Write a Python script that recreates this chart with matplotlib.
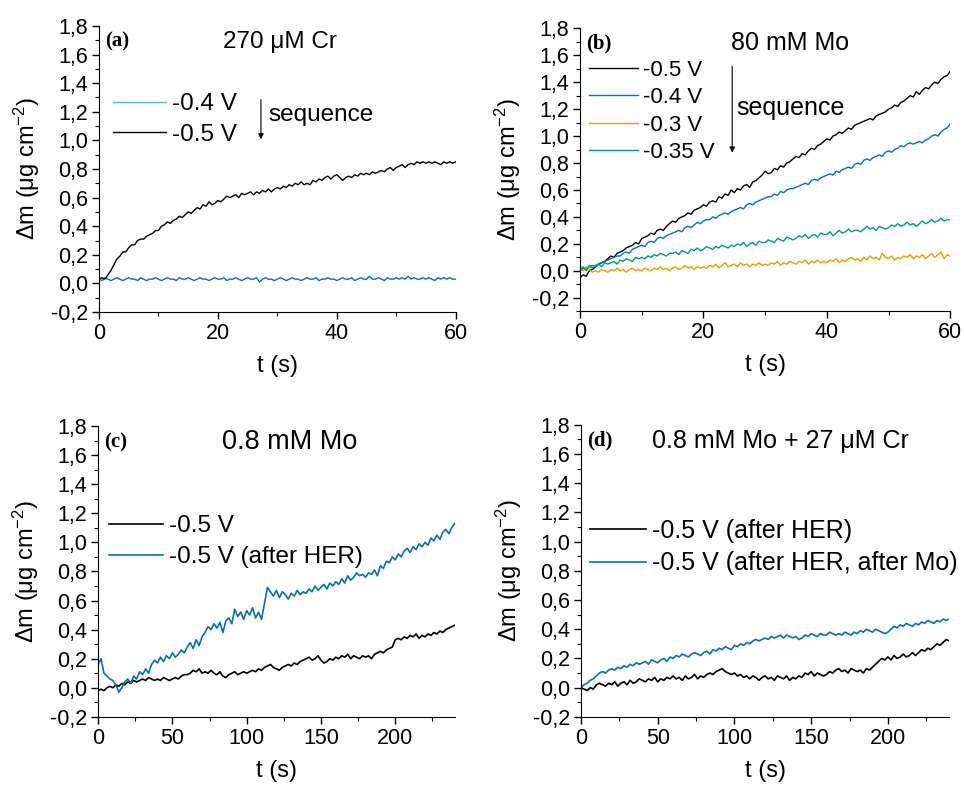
import numpy as np
import matplotlib
matplotlib.use("Agg")
import matplotlib.pyplot as plt
from matplotlib.ticker import MultipleLocator, FuncFormatter

plt.rcParams['font.family'] = ['Liberation Sans', 'DejaVu Sans']
plt.rcParams['mathtext.fontset'] = 'custom'
plt.rcParams['mathtext.rm'] = 'Liberation Sans'
plt.rcParams['mathtext.it'] = 'Liberation Sans:italic'
plt.rcParams['mathtext.default'] = 'regular'

# ---- data ----
t_short = np.arange(0, 60.5, 0.5)   # panels a, b
t_long = np.arange(0, 242, 2)       # panels c, d

# (a) 270 uM Cr
a_m05 = [0.03, 0.04, 0.03, 0.06, 0.09, 0.13, 0.17, 0.19, 0.22, 0.22,
         0.25, 0.27, 0.27, 0.30, 0.31, 0.31, 0.33, 0.34, 0.35, 0.37,
         0.37, 0.40, 0.41, 0.43, 0.42, 0.44, 0.45, 0.47, 0.46, 0.48,
         0.50, 0.49, 0.51, 0.53, 0.52, 0.55, 0.54, 0.57, 0.55, 0.56,
         0.58, 0.57, 0.59, 0.61, 0.60, 0.61, 0.62, 0.60, 0.63, 0.62,
         0.63, 0.64, 0.62, 0.64, 0.63, 0.65, 0.64, 0.66, 0.64, 0.66,
         0.67, 0.66, 0.68, 0.67, 0.69, 0.68, 0.70, 0.69, 0.71, 0.69,
         0.70, 0.69, 0.72, 0.71, 0.73, 0.72, 0.74, 0.75, 0.73, 0.75,
         0.76, 0.74, 0.72, 0.74, 0.75, 0.74, 0.76, 0.75, 0.77, 0.76,
         0.77, 0.76, 0.78, 0.77, 0.78, 0.79, 0.78, 0.80, 0.81, 0.79,
         0.81, 0.82, 0.83, 0.81, 0.83, 0.84, 0.83, 0.85, 0.84, 0.85,
         0.84, 0.85, 0.84, 0.85, 0.84, 0.83, 0.85, 0.84, 0.85, 0.84,
         0.85]
a_m04 = [0.03, 0.02, 0.04, 0.03, 0.02, 0.03, 0.04, 0.03, 0.02, 0.03,
         0.04, 0.03, 0.03, 0.02, 0.04, 0.03, 0.02, 0.03, 0.03, 0.04,
         0.03, 0.02, 0.03, 0.04, 0.03, 0.03, 0.02, 0.04, 0.03, 0.03,
         0.04, 0.03, 0.02, 0.03, 0.04, 0.03, 0.03, 0.02, 0.03, 0.04,
         0.03, 0.03, 0.04, 0.02, 0.03, 0.03, 0.04, 0.03, 0.02, 0.03,
         0.04, 0.03, 0.03, 0.04, 0.01, 0.03, 0.04, 0.03, 0.03, 0.02,
         0.03, 0.04, 0.03, 0.02, 0.03, 0.04, 0.03, 0.03, 0.02, 0.03,
         0.04, 0.03, 0.03, 0.04, 0.02, 0.03, 0.03, 0.04, 0.03, 0.03,
         0.02, 0.03, 0.04, 0.03, 0.03, 0.04, 0.02, 0.03, 0.04, 0.03,
         0.03, 0.05, 0.03, 0.03, 0.04, 0.03, 0.02, 0.04, 0.03, 0.03,
         0.04, 0.03, 0.04, 0.03, 0.05, 0.03, 0.04, 0.03, 0.03, 0.04,
         0.03, 0.04, 0.03, 0.02, 0.04, 0.03, 0.04, 0.03, 0.04, 0.03,
         0.03]

# (b) 80 mM Mo
b_m05 = [-0.05, -0.03, -0.04, 0.00, 0.01, 0.03, 0.05, 0.06, 0.07, 0.09,
         0.11, 0.10, 0.13, 0.14, 0.15, 0.17, 0.18, 0.19, 0.21, 0.20,
         0.24, 0.25, 0.26, 0.28, 0.27, 0.30, 0.31, 0.30, 0.33, 0.35,
         0.37, 0.36, 0.39, 0.40, 0.41, 0.43, 0.42, 0.45, 0.46, 0.47,
         0.49, 0.48, 0.51, 0.52, 0.51, 0.55, 0.54, 0.57, 0.56, 0.60,
         0.58, 0.61, 0.60, 0.63, 0.64, 0.62, 0.66, 0.67, 0.69, 0.71,
         0.74, 0.72, 0.73, 0.76, 0.75, 0.78, 0.77, 0.80, 0.81, 0.83,
         0.85, 0.84, 0.87, 0.86, 0.89, 0.91, 0.90, 0.93, 0.94, 0.96,
         0.98, 0.97, 1.00, 1.01, 1.03, 1.02, 1.04, 1.06, 1.05, 1.08,
         1.09, 1.10, 1.11, 1.12, 1.13, 1.12, 1.15, 1.16, 1.17, 1.18,
         1.20, 1.21, 1.23, 1.22, 1.25, 1.26, 1.28, 1.30, 1.29, 1.33,
         1.31, 1.34, 1.36, 1.35, 1.38, 1.40, 1.39, 1.42, 1.44, 1.45,
         1.48]
b_m04 = [0.00, 0.02, 0.01, 0.03, 0.04, 0.03, 0.05, 0.06, 0.07, 0.08,
         0.09, 0.10, 0.11, 0.11, 0.13, 0.14, 0.13, 0.16, 0.17, 0.18,
         0.19, 0.18, 0.21, 0.22, 0.21, 0.24, 0.25, 0.24, 0.26, 0.27,
         0.28, 0.29, 0.30, 0.29, 0.32, 0.33, 0.32, 0.34, 0.36, 0.35,
         0.37, 0.38, 0.38, 0.40, 0.39, 0.41, 0.42, 0.43, 0.42, 0.44,
         0.45, 0.46, 0.47, 0.46, 0.49, 0.50, 0.49, 0.51, 0.52, 0.53,
         0.54, 0.55, 0.55, 0.57, 0.56, 0.59, 0.58, 0.60, 0.61, 0.61,
         0.62, 0.63, 0.64, 0.65, 0.64, 0.67, 0.68, 0.67, 0.69, 0.70,
         0.71, 0.72, 0.71, 0.74, 0.73, 0.75, 0.76, 0.77, 0.76, 0.79,
         0.80, 0.79, 0.82, 0.83, 0.82, 0.84, 0.85, 0.86, 0.85, 0.88,
         0.89, 0.88, 0.90, 0.91, 0.93, 0.92, 0.94, 0.95, 0.94, 0.95,
         0.96, 0.95, 0.97, 0.98, 1.00, 1.01, 1.00, 1.03, 1.05, 1.06,
         1.09]
b_m03 = [0.02, 0.00, 0.03, 0.01, -0.01, 0.00, -0.01, 0.01, 0.00, -0.01,
         0.01, 0.00, 0.02, 0.00, 0.01, -0.01, 0.01, 0.02, 0.00, 0.01,
         0.00, 0.02, 0.01, 0.00, 0.02, 0.01, 0.03, 0.01, 0.02, 0.00,
         0.02, 0.03, 0.01, 0.02, 0.04, 0.02, 0.03, 0.01, 0.03, 0.02,
         0.03, 0.02, 0.04, 0.03, 0.05, 0.02, 0.04, 0.06, 0.03, 0.04,
         0.05, 0.03, 0.06, 0.04, 0.05, 0.03, 0.05, 0.04, 0.06, 0.04,
         0.05, 0.04, 0.06, 0.05, 0.07, 0.04, 0.06, 0.05, 0.07, 0.06,
         0.05, 0.07, 0.06, 0.08, 0.05, 0.07, 0.06, 0.08, 0.06, 0.07,
         0.06, 0.08, 0.07, 0.09, 0.06, 0.08, 0.07, 0.09, 0.10, 0.08,
         0.09, 0.07, 0.10, 0.08, 0.11, 0.09, 0.10, 0.08, 0.13, 0.10,
         0.09, 0.11, 0.08, 0.10, 0.09, 0.11, 0.10, 0.12, 0.09, 0.11,
         0.10, 0.12, 0.09, 0.11, 0.13, 0.10, 0.12, 0.14, 0.09, 0.12,
         0.11]
b_m035 = [0.01, 0.03, 0.00, 0.04, 0.02, 0.04, 0.05, 0.03, 0.06, 0.05,
          0.06, 0.07, 0.05, 0.08, 0.07, 0.09, 0.08, 0.07, 0.10, 0.09,
          0.10, 0.09, 0.11, 0.10, 0.12, 0.11, 0.13, 0.12, 0.11, 0.13,
          0.13, 0.14, 0.12, 0.15, 0.14, 0.13, 0.16, 0.15, 0.17, 0.15,
          0.16, 0.18, 0.17, 0.16, 0.18, 0.17, 0.19, 0.18, 0.17, 0.19,
          0.18, 0.20, 0.19, 0.21, 0.18, 0.20, 0.21, 0.19, 0.22, 0.21,
          0.21, 0.23, 0.22, 0.21, 0.24, 0.23, 0.22, 0.25, 0.24, 0.23,
          0.24, 0.26, 0.25, 0.27, 0.24, 0.26, 0.27, 0.25, 0.28, 0.27,
          0.27, 0.29, 0.26, 0.28, 0.30, 0.28, 0.29, 0.31, 0.29, 0.30,
          0.30, 0.29, 0.31, 0.33, 0.31, 0.32, 0.30, 0.33, 0.32, 0.31,
          0.32, 0.34, 0.33, 0.35, 0.33, 0.34, 0.36, 0.34, 0.35, 0.33,
          0.35, 0.37, 0.35, 0.36, 0.38, 0.36, 0.37, 0.39, 0.37, 0.38,
          0.38]

# (c) 0.8 mM Mo
c_m05 = [-0.02, -0.01, -0.02, 0.00, 0.01, 0.00, 0.02, 0.01, 0.03, 0.02,
         0.04, 0.03, 0.05, 0.04, 0.05, 0.06, 0.05, 0.07, 0.06, 0.05,
         0.06, 0.05, 0.07, 0.06, 0.05, 0.06, 0.07, 0.06, 0.08, 0.09,
         0.09, 0.10, 0.12, 0.11, 0.13, 0.10, 0.11, 0.10, 0.12, 0.10,
         0.09, 0.11, 0.08, 0.07, 0.09, 0.10, 0.11, 0.09, 0.10, 0.11,
         0.10, 0.11, 0.12, 0.11, 0.13, 0.12, 0.14, 0.15, 0.16, 0.14,
         0.13, 0.12, 0.14, 0.15, 0.16, 0.15, 0.17, 0.16, 0.18, 0.19,
         0.20, 0.21, 0.19, 0.20, 0.22, 0.19, 0.17, 0.18, 0.20, 0.19,
         0.21, 0.20, 0.22, 0.21, 0.23, 0.20, 0.22, 0.21, 0.20, 0.22,
         0.21, 0.22, 0.20, 0.23, 0.24, 0.25, 0.24, 0.26, 0.27, 0.28,
         0.33, 0.34, 0.33, 0.35, 0.34, 0.36, 0.35, 0.37, 0.34, 0.36,
         0.35, 0.37, 0.36, 0.38, 0.37, 0.39, 0.38, 0.40, 0.41, 0.42,
         0.43]
c_m05_her = [0.16, 0.20, 0.10, 0.08, 0.06, 0.05, 0.02, -0.03, 0.00, 0.04,
             0.06, 0.03, 0.08, 0.06, 0.11, 0.09, 0.13, 0.10, 0.16, 0.19,
             0.17, 0.21, 0.18, 0.22, 0.20, 0.24, 0.21, 0.23, 0.26, 0.24,
             0.28, 0.31, 0.27, 0.33, 0.29, 0.35, 0.38, 0.42, 0.40, 0.44,
             0.41, 0.45, 0.38, 0.46, 0.48, 0.44, 0.54, 0.49, 0.52, 0.47,
             0.53, 0.50, 0.55, 0.48, 0.52, 0.47, 0.58, 0.69, 0.66, 0.63,
             0.67, 0.62, 0.66, 0.64, 0.61, 0.65, 0.63, 0.67, 0.64, 0.66,
             0.65, 0.68, 0.66, 0.70, 0.67, 0.69, 0.71, 0.68, 0.72, 0.70,
             0.73, 0.71, 0.75, 0.72, 0.77, 0.74, 0.76, 0.79, 0.77, 0.78,
             0.76, 0.79, 0.78, 0.81, 0.77, 0.84, 0.82, 0.87, 0.86, 0.90,
             0.88, 0.92, 0.90, 0.94, 0.96, 0.93, 0.97, 0.95, 0.99, 0.97,
             1.00, 0.98, 1.03, 1.01, 1.05, 1.02, 1.07, 1.09, 1.06, 1.10,
             1.13]

# (d) 0.8 mM Mo + 27 uM Cr
d_her = [0.00, -0.01, -0.02, 0.00, -0.01, 0.02, 0.03, 0.02, 0.01, 0.03,
         0.02, 0.04, 0.01, 0.03, 0.04, 0.02, 0.05, 0.03, 0.04, 0.06,
         0.05, 0.04, 0.06, 0.05, 0.07, 0.04, 0.06, 0.05, 0.07, 0.06,
         0.08, 0.06, 0.07, 0.05, 0.08, 0.06, 0.07, 0.09, 0.06, 0.08,
         0.07, 0.09, 0.10, 0.09, 0.11, 0.12, 0.13, 0.11, 0.10, 0.09,
         0.10, 0.08, 0.09, 0.07, 0.08, 0.06, 0.08, 0.07, 0.05, 0.07,
         0.08, 0.06, 0.07, 0.05, 0.08, 0.07, 0.06, 0.08, 0.05, 0.07,
         0.06, 0.08, 0.07, 0.10, 0.09, 0.11, 0.08, 0.10, 0.09, 0.08,
         0.09, 0.11, 0.10, 0.12, 0.13, 0.11, 0.12, 0.10, 0.13, 0.12,
         0.11, 0.12, 0.10, 0.13, 0.12, 0.14, 0.16, 0.18, 0.20, 0.19,
         0.21, 0.19, 0.22, 0.20, 0.21, 0.23, 0.21, 0.22, 0.24, 0.22,
         0.24, 0.26, 0.25, 0.27, 0.26, 0.28, 0.30, 0.29, 0.31, 0.33,
         0.32]
d_her_mo = [0.00, 0.02, 0.03, 0.05, 0.06, 0.08, 0.10, 0.11, 0.10, 0.12,
            0.13, 0.12, 0.14, 0.13, 0.15, 0.14, 0.16, 0.15, 0.17, 0.16,
            0.17, 0.18, 0.16, 0.19, 0.18, 0.17, 0.19, 0.20, 0.18, 0.21,
            0.20, 0.22, 0.21, 0.23, 0.22, 0.21, 0.23, 0.24, 0.23, 0.22,
            0.24, 0.25, 0.23, 0.26, 0.25, 0.27, 0.26, 0.28, 0.27, 0.26,
            0.29, 0.28, 0.30, 0.29, 0.31, 0.30, 0.32, 0.33, 0.32, 0.33,
            0.34, 0.33, 0.35, 0.34, 0.35, 0.36, 0.34, 0.36, 0.35, 0.34,
            0.35, 0.33, 0.34, 0.36, 0.35, 0.37, 0.36, 0.35, 0.37, 0.36,
            0.36, 0.38, 0.37, 0.36, 0.37, 0.36, 0.38, 0.37, 0.36, 0.38,
            0.37, 0.39, 0.38, 0.40, 0.39, 0.38, 0.40, 0.39, 0.38, 0.37,
            0.38, 0.40, 0.42, 0.41, 0.43, 0.42, 0.44, 0.43, 0.42, 0.44,
            0.43, 0.45, 0.44, 0.46, 0.45, 0.44, 0.46, 0.45, 0.47, 0.46,
            0.47]

BLACK = '#000000'
BLUE = '#0a6fb0'
SKY = '#56b4e9'
ORANGE = '#e69f00'
GREEN = '#009e73'

FS_LAB = 17   # axis labels
comma = FuncFormatter(lambda v, p: f'{v:.1f}'.replace('.', ','))


def style_axes(ax, xmax, xmajor, xminor, ymin):
    for s in ['top', 'right']:
        ax.spines[s].set_visible(False)
    ax.set_xlim(0, xmax)
    ax.set_ylim(ymin, 1.8)
    ax.xaxis.set_major_locator(MultipleLocator(xmajor))
    ax.xaxis.set_minor_locator(MultipleLocator(xminor))
    ax.yaxis.set_major_locator(MultipleLocator(0.2))
    ax.yaxis.set_minor_locator(MultipleLocator(0.1))
    ax.yaxis.set_major_formatter(comma)
    ax.tick_params(which='major', direction='out', length=5, width=1, labelsize=15.5, pad=3)
    ax.tick_params(which='minor', direction='out', length=3, width=0.8)
    ax.set_xlabel('t (s)', fontsize=FS_LAB, labelpad=8)
    ax.set_ylabel('Δm (μg cm$^{-2}$)', fontsize=FS_LAB, labelpad=6)


def panel_tag(ax, tag, title, tx, ty, size):
    ax.text(0.017, ty, tag, transform=ax.transAxes, fontsize=15, fontweight='bold',
            family='Liberation Serif', va='center', ha='left')
    ax.text(tx, ty, title, transform=ax.transAxes, fontsize=size, va='center', ha='center')


def add_legend(ax, x, y, size, hl, ls):
    return ax.legend(loc='upper left', bbox_to_anchor=(x, y), frameon=False, fontsize=size,
                     handlelength=hl, handletextpad=0.25, labelspacing=ls,
                     borderpad=0, borderaxespad=0)


def sequence_arrow(ax, x, y0, y1, tx, ty, size):
    ax.annotate('', xy=(x, y1), xytext=(x, y0), xycoords='axes fraction',
                arrowprops=dict(arrowstyle='-|>', lw=0.8, color='black', mutation_scale=8))
    ax.text(tx, ty, 'sequence', transform=ax.transAxes, fontsize=size, va='center')


fig = plt.figure(figsize=(9.64, 7.86), dpi=100)
ax_a = fig.add_axes([0.1027, 0.603, 0.370, 0.364])
ax_b = fig.add_axes([0.6017, 0.604, 0.384, 0.360])
ax_c = fig.add_axes([0.1017, 0.088, 0.370, 0.370])
ax_d = fig.add_axes([0.6027, 0.088, 0.382, 0.3715])

# (a)
ax_a.plot(t_short, a_m04, color=BLUE, lw=1.0, label='-0.4 V')
ax_a.plot(t_short, a_m05, color=BLACK, lw=1.0, label='-0.5 V')
style_axes(ax_a, 60, 20, 10, -0.2)
leg = add_legend(ax_a, 0.039, 0.765, 17.5, 2.2, 0.36)
leg.get_lines()[0].set_color(SKY)
panel_tag(ax_a, '(a)', '270 μM Cr', 0.507, 0.944, 17.5)
sequence_arrow(ax_a, 0.454, 0.752, 0.594, 0.476, 0.689, 17.5)

# (b)
ax_b.plot(t_short, b_m05, color=BLACK, lw=1.0, label='-0.5 V')
ax_b.plot(t_short, b_m04, color=BLUE, lw=1.0, label='-0.4 V')
ax_b.plot(t_short, b_m03, color=ORANGE, lw=1.0, label='-0.3 V')
ax_b.plot(t_short, b_m035, color=GREEN, lw=1.0, label='-0.35 V')
style_axes(ax_b, 60, 20, 10, -0.3)
add_legend(ax_b, 0.024, 0.889, 16, 2.2, 0.29)
panel_tag(ax_b, '(b)', '80 mM Mo', 0.568, 0.947, 18)
sequence_arrow(ax_b, 0.411, 0.876, 0.551, 0.422, 0.717, 18)

# (c)
ax_c.plot(t_long, c_m05, color=BLACK, lw=1.2, label='-0.5 V')
ax_c.plot(t_long, c_m05_her, color=BLUE, lw=1.2, label='-0.5 V (after HER)')
style_axes(ax_c, 240, 50, 25, -0.2)
add_legend(ax_c, 0.031, 0.693, 17.5, 2.2, 0.37)
panel_tag(ax_c, '(c)', '0.8 mM Mo', 0.538, 0.945, 19.5)

# (d)
ax_d.plot(t_long, d_her, color=BLACK, lw=1.2, label='-0.5 V (after HER)')
ax_d.plot(t_long, d_her_mo, color=BLUE, lw=1.2, label='-0.5 V (after HER, after Mo)')
style_axes(ax_d, 240, 50, 25, -0.2)
add_legend(ax_d, 0.024, 0.678, 18, 2.24, 0.34)
panel_tag(ax_d, '(d)', '0.8 mM Mo + 27 μM Cr', 0.541, 0.945, 18)

fig.savefig('out.png', dpi=100)
